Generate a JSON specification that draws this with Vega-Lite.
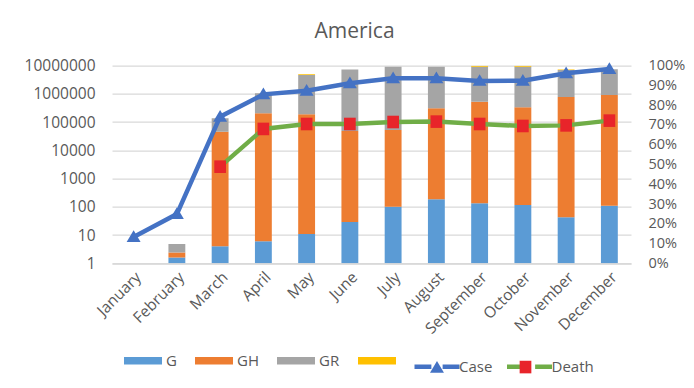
{
  "$schema": "https://vega.github.io/schema/vega-lite/v6.json",
  "autosize": {"type": "none"},
  "width": 519,
  "height": 197.6,
  "padding": {"left": 112, "top": 65.7, "right": 63, "bottom": 124.7},
  "background": "white",
  "title": {"text": "America", "fontSize": 21, "font": "Open Sans", "fontWeight": "normal", "color": "#595959", "dx": -17, "offset": 16},
  "config": {
    "view": {"stroke": null},
    "font": "Open Sans",
    "axis": {"labelFont": "Open Sans", "labelFontSize": 15.5, "labelColor": "#595959", "title": null, "ticks": false},
    "legend": {"labelFont": "Open Sans", "labelFontSize": 15, "labelColor": "#595959"}
  },
  "datasets": {
    "bars": [
      {"month": "February", "series": "G", "value": 1.6},
      {"month": "February", "series": "GH", "value": 0.8},
      {"month": "February", "series": "GR", "value": 2.4},
      {"month": "March", "series": "G", "value": 4},
      {"month": "March", "series": "GH", "value": 46000},
      {"month": "March", "series": "GR", "value": 91000},
      {"month": "April", "series": "G", "value": 6},
      {"month": "April", "series": "GH", "value": 205000},
      {"month": "April", "series": "GR", "value": 850000},
      {"month": "May", "series": "G", "value": 11},
      {"month": "May", "series": "GH", "value": 190000},
      {"month": "May", "series": "GR", "value": 4510000},
      {"month": "May", "series": "Other", "value": 300000},
      {"month": "June", "series": "G", "value": 29},
      {"month": "June", "series": "GH", "value": 49000},
      {"month": "June", "series": "GR", "value": 7300000},
      {"month": "July", "series": "G", "value": 100},
      {"month": "July", "series": "GH", "value": 53000},
      {"month": "July", "series": "GR", "value": 9100000},
      {"month": "August", "series": "G", "value": 186},
      {"month": "August", "series": "GH", "value": 310000},
      {"month": "August", "series": "GR", "value": 8900000},
      {"month": "September", "series": "G", "value": 133},
      {"month": "September", "series": "GH", "value": 530000},
      {"month": "September", "series": "GR", "value": 8670000},
      {"month": "September", "series": "Other", "value": 800000},
      {"month": "October", "series": "G", "value": 116},
      {"month": "October", "series": "GH", "value": 337000},
      {"month": "October", "series": "GR", "value": 8860000},
      {"month": "October", "series": "Other", "value": 800000},
      {"month": "November", "series": "G", "value": 43},
      {"month": "November", "series": "GH", "value": 780000},
      {"month": "November", "series": "GR", "value": 6220000},
      {"month": "November", "series": "Other", "value": 400000},
      {"month": "December", "series": "G", "value": 110},
      {"month": "December", "series": "GH", "value": 910000},
      {"month": "December", "series": "GR", "value": 6500000}
    ],
    "lines": [
      {"month": "January", "series": "Case", "pct": 0.133},
      {"month": "February", "series": "Case", "pct": 0.249},
      {"month": "March", "series": "Case", "pct": 0.742},
      {"month": "April", "series": "Case", "pct": 0.855},
      {"month": "May", "series": "Case", "pct": 0.873},
      {"month": "June", "series": "Case", "pct": 0.911},
      {"month": "July", "series": "Case", "pct": 0.936},
      {"month": "August", "series": "Case", "pct": 0.936},
      {"month": "September", "series": "Case", "pct": 0.923},
      {"month": "October", "series": "Case", "pct": 0.924},
      {"month": "November", "series": "Case", "pct": 0.962},
      {"month": "December", "series": "Case", "pct": 0.983},
      {"month": "March", "series": "Death", "pct": 0.489},
      {"month": "April", "series": "Death", "pct": 0.68},
      {"month": "May", "series": "Death", "pct": 0.705},
      {"month": "June", "series": "Death", "pct": 0.705},
      {"month": "July", "series": "Death", "pct": 0.715},
      {"month": "August", "series": "Death", "pct": 0.717},
      {"month": "September", "series": "Death", "pct": 0.705},
      {"month": "October", "series": "Death", "pct": 0.695},
      {"month": "November", "series": "Death", "pct": 0.698},
      {"month": "December", "series": "Death", "pct": 0.722}
    ]
  },
  "encoding": {
    "x": {
      "field": "month", "type": "nominal",
      "scale": {"domain": ["January","February","March","April","May","June","July","August","September","October","November","December"], "paddingInner": 0.61, "paddingOuter": 0.305},
      "axis": {"labelAngle": -45, "domainColor": "#d9d9d9", "domainWidth": 1.5, "labelPadding": 6}
    }
  },
  "layer": [
    {
      "data": {"name": "bars"},
      "mark": {"type": "bar", "clip": true},
      "encoding": {
        "y": {
          "field": "value", "type": "quantitative", "stack": "zero",
          "scale": {"type": "log", "domain": [1, 10000000], "nice": false, "clamp": true},
          "axis": {"values": [1, 10, 100, 1000, 10000, 100000, 1000000, 10000000], "format": "d", "gridColor": "#d9d9d9", "gridWidth": 1.3, "domain": false, "labelPadding": 17}
        },
        "color": {
          "field": "series", "type": "nominal",
          "scale": {"domain": ["G", "GH", "GR", "Other"], "range": ["#5b9bd5", "#ed7d31", "#a5a5a5", "#ffc000"]},
          "legend": {"orient": "none", "legendX": 12, "legendY": 276, "direction": "horizontal", "columns": 4, "title": null, "symbolType": "M-1,-0.2H1V0.2H-1Z", "symbolSize": 1444, "symbolStrokeWidth": 0, "labelOffset": 4, "columnPadding": 18, "labelExpr": "datum.label == 'Other' ? '' : datum.label"}
        },
        "order": {"field": "series", "sort": "ascending"}
      }
    },
    {
      "data": {"name": "lines"},
      "encoding": {
        "y": {
          "field": "pct", "type": "quantitative",
          "scale": {"domain": [0, 1], "nice": false},
          "axis": {"orient": "right", "values": [0, 0.1, 0.2, 0.3, 0.4, 0.5, 0.6, 0.7, 0.8, 0.9, 1], "format": ".0%", "grid": false, "domain": false, "labelPadding": 17, "labelFontSize": 14.5}
        }
      },
      "layer": [
        {
          "mark": {"type": "line", "strokeWidth": 4.5},
          "encoding": {
            "stroke": {
              "field": "series", "type": "nominal",
              "scale": {"range": ["#4472c4", "#70ad47"]},
              "legend": {"orient": "none", "legendX": 300, "legendY": 276, "direction": "horizontal", "columns": 2, "title": null, "symbolType": "M-1,0H-0.25M0.25,0H1", "symbolSize": 2025, "symbolStrokeWidth": 4.5, "labelOffset": -3, "columnPadding": 4.5}
            }
          }
        },
        {
          "mark": {"type": "point", "filled": true, "opacity": 1, "size": 2025, "strokeWidth": 0},
          "encoding": {
            "shape": {
              "field": "series", "type": "nominal",
              "scale": {"domain": ["Case", "Death"], "range": ["M-0.31,0.22L0,-0.3L0.31,0.22Z", "M-0.26,-0.28H0.26V0.28H-0.26Z"]},
              "legend": {"orient": "none", "legendX": 300, "legendY": 276, "direction": "horizontal", "columns": 2, "title": null, "symbolSize": 2025, "symbolStrokeWidth": 4.5, "symbolStrokeColor": "transparent", "labelOffset": -3, "columnPadding": 41.5, "labelExpr": "''"}
            },
            "fill": {
              "field": "series", "type": "nominal",
              "scale": {"domain": ["Case", "Death"], "range": ["#4472c4", "#e8242a"]},
              "legend": {"orient": "none", "legendX": 300, "legendY": 276, "direction": "horizontal", "columns": 2, "title": null, "symbolSize": 2025, "symbolStrokeWidth": 4.5, "symbolStrokeColor": "transparent", "labelOffset": -3, "columnPadding": 41.5, "labelExpr": "''"}
            }
          }
        }
      ]
    }
  ],
  "resolve": {"scale": {"y": "independent"}}
}
